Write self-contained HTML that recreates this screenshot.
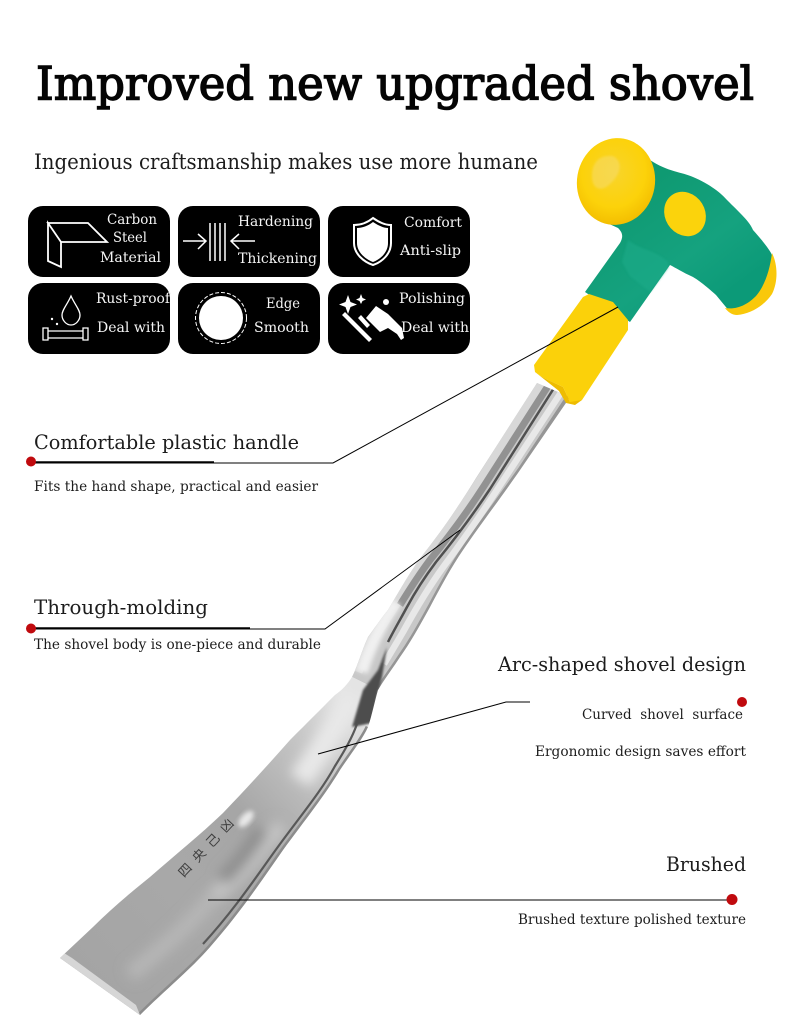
<!DOCTYPE html>
<html><head><meta charset="utf-8"><style>
html,body{margin:0;padding:0;background:#fff}
svg{display:block}
text{font-family:"DejaVu Serif","Liberation Serif",serif;fill:#1c1c1c}
.w text{fill:#f4f4f4;font-size:14px}
</style></head><body>
<svg width="790" height="1031" viewBox="0 0 790 1031" xmlns="http://www.w3.org/2000/svg">
<defs>
<linearGradient id="bl2" gradientUnits="userSpaceOnUse" x1="60" y1="960" x2="350" y2="700"><stop offset="0" stop-color="#a4a4a4"/><stop offset=".35" stop-color="#a8a8a8"/><stop offset=".6" stop-color="#a6a6a6"/><stop offset=".85" stop-color="#c8c8c8"/><stop offset="1" stop-color="#e4e4e4"/></linearGradient>
<linearGradient id="gr" gradientUnits="userSpaceOnUse" x1="640" y1="190" x2="720" y2="300"><stop offset="0" stop-color="#0f9a72"/><stop offset=".6" stop-color="#15a27f"/><stop offset="1" stop-color="#0c9a78"/></linearGradient>
<radialGradient id="kn" cx=".45" cy=".4" r=".62"><stop offset="0" stop-color="#f8d42c"/><stop offset=".65" stop-color="#fcd20a"/><stop offset="1" stop-color="#f3bd00"/></radialGradient>
<filter id="b3" x="-30%" y="-30%" width="160%" height="160%"><feGaussianBlur stdDeviation="6"/></filter>
<filter id="b1" x="-30%" y="-30%" width="160%" height="160%"><feGaussianBlur stdDeviation="1"/></filter>
<filter id="b2" x="-30%" y="-30%" width="160%" height="160%"><feGaussianBlur stdDeviation="2.500"/></filter>
<clipPath id="bc"><path id="bladep" d="M60 958 L140 1015 C165 990 190 970 210 947 C240 913 262 880 283 850 C305 820 325 795 340 770 C352 752 362 740 368 727 C372 715 375 700 378 690 L400 650 L368 637 C362 650 358 665 352 677 C347 685 342 690 335 695 C322 708 308 722 290 740 C268 765 245 790 223 813 C200 835 175 855 150 877 C130 893 110 910 93 927 Z"/></clipPath>
<clipPath id="sc"><path d="M537 383 L476 478 C455 512 440 533 425 552 C412 568 400 590 388 610 C380 620 373 630 368 637 C362 650 358 665 352 677 L378 690 C385 678 393 668 400 657 C412 640 420 625 430 607 C440 588 452 566 463 550 C480 525 505 492 520 470 L570 397 Z"/></clipPath>
</defs>

<!-- title -->
<text x="36" y="99.500" font-size="46" stroke="#050505" stroke-width="1.500" textLength="718" lengthAdjust="spacingAndGlyphs" style="fill:#050505;stroke:#050505;stroke-width:1.500px">Improved new upgraded shovel</text>
<text x="34" y="169" font-size="21" textLength="504" lengthAdjust="spacingAndGlyphs">Ingenious craftsmanship makes use more humane</text>

<!-- shaft -->
<path d="M537 383 L476 478 C455 512 440 533 425 552 C412 568 400 590 388 610 C380 620 373 630 368 637 C362 650 358 665 352 677 L378 690 C385 678 393 668 400 657 C412 640 420 625 430 607 C440 588 452 566 463 550 C480 525 505 492 520 470 L570 397 Z" fill="#c8c8c8"/>
<g clip-path="url(#sc)" fill="none">
<path d="M541 384 L478 484 C458 515 438 542 423 562 C410 580 392 612 372 640 C366 650 362 662 358 672" stroke="#d8d8d8" stroke-width="9"/>
<path d="M548 386 L484 486 C466 514 448 538 430 560 C418 576 408 592 400 605" stroke="#929292" stroke-width="7"/>
<path d="M554 388 L490 489 C472 516 454 540 436 562 C424 578 414 594 407 607 C400 620 394 630 388 642" stroke="#505050" stroke-width="2.500"/>
<path d="M562 391 L497 490 C480 516 462 542 444 566 C428 588 414 612 403 632 C396 644 390 654 384 664" stroke="#e8e8e8" stroke-width="6.500"/>
<path d="M569 396 L520 470 C503 494 480 525 463 550 C452 566 440 588 430 607 C420 625 412 640 400 657 C393 668 385 678 378 690" stroke="#969696" stroke-width="5"/>
<path d="M396 602 C385 618 370 645 362 672" stroke="#f0f0f0" stroke-width="12" filter="url(#b2)"/>
</g>

<!-- blade -->
<path d="M60 958 L140 1015 C165 990 190 970 210 947 C240 913 262 880 283 850 C305 820 325 795 340 770 C352 752 362 740 368 727 C372 715 375 700 378 690 L400 650 L368 637 C362 650 358 665 352 677 C347 685 342 690 335 695 C322 708 308 722 290 740 C268 765 245 790 223 813 C200 835 175 855 150 877 C130 893 110 910 93 927 Z" fill="url(#bl2)" style="display:none"/>
<path d="M60 958 L140 1015 C165 990 190 970 210 947 C240 913 262 880 283 850 C305 820 325 795 340 770 C352 752 362 740 368 727 C372 715 375 700 378 690 L352 677 C347 685 342 690 335 695 C322 708 308 722 290 740 C268 765 245 790 223 813 C200 835 175 855 150 877 C130 893 110 910 93 927 Z" fill="url(#bl2)"/>
<g clip-path="url(#bc)">
<g filter="url(#b3)" fill="none">
<path d="M210 900 C238 878 262 850 282 825" stroke="#c4c4c4" stroke-width="16"/>
<path d="M300 780 C318 755 335 730 352 695" stroke="#e8e8e8" stroke-width="24"/>
<path d="M130 975 C160 950 185 930 215 895" stroke="#b6b6b6" stroke-width="16"/>
<path d="M262 830 C248 852 235 868 222 880" stroke="#8c8c8c" stroke-width="14"/>
</g>
<path d="M140 1015 C165 990 190 970 210 947 C240 913 262 880 283 850 C305 820 325 795 340 770 C352 752 362 740 368 727" fill="none" stroke="#8c8c8c" stroke-width="5"/>
<path d="M203 944 C236 908 258 874 280 844 C302 814 322 790 335 766 C345 750 352 738 357 724" fill="none" stroke="#585858" stroke-width="2.200"/>
<path d="M387 647 L378 670 L363 690 L352 727 L372 723 L377 697 L382 677 Z" fill="#4d4d4d" filter="url(#b1)"/>
<path d="M60 958 L140 1015 L136 1005 L72 958 L64 953 Z" fill="#d6d6d6"/>
</g>
<ellipse cx="246" cy="819" rx="10" ry="5" fill="#e8e8e8" transform="rotate(-48 246 819)" filter="url(#b2)"/>
<text transform="translate(184 878) rotate(-47)" font-size="13" style="font-family:'Noto Sans CJK SC',sans-serif;fill:#3f3f3f" textLength="74">四央己凶</text>

<!-- handle -->
<path d="M650 160 C668 172 682 172 693 177 C710 184 722 194 727 200 C740 213 750 222 753 230 C762 240 770 250 772 255 L776 278 C772 290 762 300 753 304 C744 310 735 314 730 312 L716 295 C705 285 698 280 693 277 C682 272 676 268 670 265 L630 322 L585 292 L620 243 C624 236 622 232 618 228 L605 222 Z" fill="url(#gr)"/>
<path d="M628 240 C640 250 655 250 668 262 L668 268 L650 292 L630 276 L622 262 Z" fill="#1cab89" opacity=".6" filter="url(#b1)"/>
<path d="M772 253 C778 265 778 282 772 294 C764 306 750 314 737 315 C732 315 728 312 725 308 C738 310 748 304 756 296 C766 284 770 268 772 253 Z" fill="#f9c80a"/>
<ellipse cx="685" cy="214" rx="20" ry="23" fill="#fbd30c" transform="rotate(-32 685 214)"/>
<ellipse cx="616" cy="181.500" rx="39" ry="43.500" fill="url(#kn)" transform="rotate(10 616 181.500)"/>
<path d="M592 176 C592 162 600 155 612 156 C620 158 625 170 610 184 C602 192 592 190 592 176Z" fill="#f7dc6c" opacity=".55" filter="url(#b1)"/>
<path d="M583 297 L589 294 L613 302 L628 320 L628 330 L582 400 C577 403 572 403 570 402 L563 387 C553 382 542 378 535 372 L534 365 Z" fill="#fbd10a"/>
<path d="M535 372 C542 378 553 382 563 387 L570 402 L582 400 L575 405 L566 403 L559 391 Z" fill="#eebc00"/>

<!-- connectors -->
<g fill="none" stroke="#000">
<path d="M33 463 H333 L618 307" stroke-width="1"/>
<path d="M33 629 H325 L460 530" stroke-width="1"/>
<path d="M33 462 H214" stroke-width="1.500"/>
<path d="M33 628 H250" stroke-width="1.500"/>
<path d="M318 754 L506 702 H530" stroke-width="1"/>
<path d="M208 900 H732" stroke-width="1"/>
</g>
<g fill="#c00a0e">
<circle cx="31" cy="461.500" r="5"/><circle cx="31" cy="628.500" r="5"/><circle cx="742" cy="702" r="5"/><circle cx="732" cy="899.500" r="5.500"/>
</g>

<!-- labels -->
<text x="34" y="449" font-size="20" textLength="265" lengthAdjust="spacingAndGlyphs">Comfortable plastic handle</text>
<text x="34" y="491" font-size="13.500" textLength="284" lengthAdjust="spacingAndGlyphs">Fits the hand shape, practical and easier</text>
<text x="34" y="614" font-size="20" textLength="174" lengthAdjust="spacingAndGlyphs">Through-molding</text>
<text x="34" y="649" font-size="13.500" textLength="287" lengthAdjust="spacingAndGlyphs">The shovel body is one-piece and durable</text>
<text x="498" y="671" font-size="20" textLength="248" lengthAdjust="spacingAndGlyphs">Arc-shaped shovel design</text>
<text x="582" y="719" font-size="13.500" textLength="161" lengthAdjust="spacingAndGlyphs" xml:space="preserve">Curved  shovel  surface</text>
<text x="535" y="756" font-size="13.500" textLength="211" lengthAdjust="spacingAndGlyphs">Ergonomic design saves effort</text>
<text x="666" y="871" font-size="20" textLength="80" lengthAdjust="spacingAndGlyphs">Brushed</text>
<text x="518" y="924" font-size="13.500" textLength="228" lengthAdjust="spacingAndGlyphs">Brushed texture polished texture</text>

<!-- badges -->
<g fill="#000">
<rect x="28" y="206" width="142" height="71" rx="15"/><rect x="178" y="206" width="142" height="71" rx="15"/><rect x="328" y="206" width="142" height="71" rx="15"/>
<rect x="28" y="283" width="142" height="71" rx="15"/><rect x="178" y="283" width="142" height="71" rx="15"/><rect x="328" y="283" width="142" height="71" rx="15"/>
</g>
<g class="w">
<text x="107" y="224" textLength="50" lengthAdjust="spacingAndGlyphs">Carbon</text>
<text x="113" y="242" textLength="34" lengthAdjust="spacingAndGlyphs">Steel</text>
<text x="100" y="262" textLength="61" lengthAdjust="spacingAndGlyphs">Material</text>
<text x="238" y="226" textLength="75" lengthAdjust="spacingAndGlyphs">Hardening</text>
<text x="238" y="263" textLength="79" lengthAdjust="spacingAndGlyphs">Thickening</text>
<text x="404" y="227" textLength="58" lengthAdjust="spacingAndGlyphs">Comfort</text>
<text x="400" y="255" textLength="61" lengthAdjust="spacingAndGlyphs">Anti-slip</text>
<text x="96" y="303" textLength="74" lengthAdjust="spacingAndGlyphs">Rust-proof</text>
<text x="97" y="332" textLength="68" lengthAdjust="spacingAndGlyphs">Deal with</text>
<text x="266" y="308" textLength="34" lengthAdjust="spacingAndGlyphs">Edge</text>
<text x="254" y="332" textLength="55" lengthAdjust="spacingAndGlyphs">Smooth</text>
<text x="399" y="303" textLength="66" lengthAdjust="spacingAndGlyphs">Polishing</text>
<text x="401" y="332" textLength="68" lengthAdjust="spacingAndGlyphs">Deal with</text>
</g>
<!-- badge icons -->
<g fill="none" stroke="#fff" stroke-width="1.800">
<path d="M48 223 H88 L107 242 H61 Z M48 223 L61 242 V267 L48 261 Z"/>
<path d="M210 223 V261 M215 223 V261 M220 223 V261 M225 223 V261" stroke-width="1.500"/>
<path d="M183 241 H205 M198 234 L206 241 L198 249 M255 241 H232 M239 234 L231 241 L239 249" stroke-width="1.500"/>
<path d="M373 218 C380 223 386 225 391 225 V243 C391 254 382 262 373 265 C364 262 354 254 354 243 V225 C360 225 367 223 373 218 Z" stroke-width="2"/>
<path d="M71 296 C67 305 62 310 62 315 C62 320 66 325 71 325 C76 325 80 320 80 315 C80 310 75 305 71 296 Z" stroke-width="1.300"/>
<path d="M43 328 H48 V340 H43 Z M48 331 H83 V338 H48 M83 328 H88 V340 H83 Z" stroke-width="1.300"/>
<circle cx="221" cy="318" r="25.500" stroke-width="1" stroke-dasharray="4 2"/>
</g>
<circle cx="221" cy="318" r="22" fill="#fff"/>
<path d="M373 222 C379 226 384 228 388 228 V243 C388 252 381 259 373 262 C365 259 357 252 357 243 V228 C362 228 368 226 373 222 Z" fill="#fff"/>
<g fill="#fff">
<circle cx="52" cy="319" r="1.200"/><circle cx="57" cy="324" r="1.200"/>
<path d="M348 295 L350.500 302 L357 304.500 L350.500 307 L348 314 L345.500 307 L339 304.500 L345.500 302 Z"/>
<path d="M361 294 L362.500 298 L366 299.500 L362.500 301 L361 304 L359.500 301 L356 299.500 L359.500 298 Z"/>
<path d="M366 318 L376 306 L388 314 L402 328 L404 338 L401 340 L397 334 L388 328 L380 332 Z"/>
<circle cx="386" cy="302" r="3"/>
<path d="M342 315 L345 312 L372 339 L369 342 Z M358 318 L361 315 L370 325 L367 328 Z"/>
</g>
</svg>
</body></html>
